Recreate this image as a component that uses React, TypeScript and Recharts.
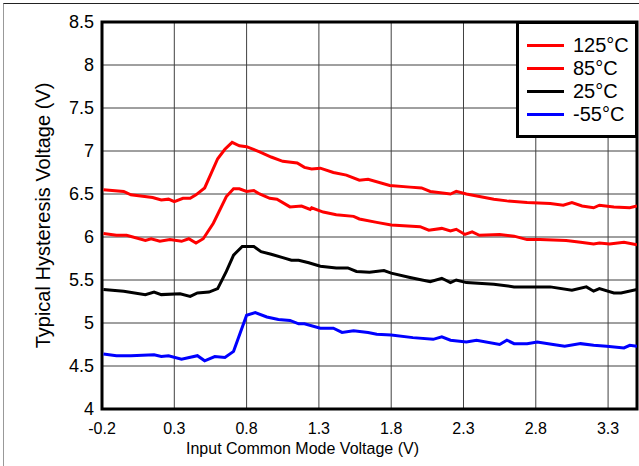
import React from 'react';
import { LineChart, Line, XAxis, YAxis, CartesianGrid, ReferenceArea } from 'recharts';

// readings per temperature: input common mode voltage (V) -> hysteresis (V)
const x125 = [-0.19, -0.05, 0.0, 0.15, 0.21, 0.26, 0.3, 0.36, 0.41, 0.45, 0.51, 0.6, 0.65, 0.7, 0.75, 0.8, 0.89, 0.97, 1.05, 1.15, 1.2, 1.25, 1.31, 1.4, 1.49, 1.58, 1.64, 1.79, 1.93, 2.01, 2.07, 2.21, 2.25, 2.32, 2.51, 2.6, 2.74, 2.9, 2.99, 3.05, 3.12, 3.2, 3.24, 3.34, 3.45, 3.5];
const y125 = [6.55, 6.53, 6.49, 6.46, 6.43, 6.44, 6.41, 6.45, 6.45, 6.49, 6.57, 6.91, 7.02, 7.1, 7.06, 7.05, 6.99, 6.93, 6.88, 6.86, 6.81, 6.79, 6.8, 6.75, 6.72, 6.66, 6.67, 6.6, 6.58, 6.57, 6.53, 6.5, 6.53, 6.5, 6.44, 6.42, 6.4, 6.39, 6.37, 6.4, 6.36, 6.34, 6.37, 6.35, 6.34, 6.36];

const x85 = [-0.19, -0.1, -0.03, 0.1, 0.14, 0.2, 0.27, 0.35, 0.4, 0.45, 0.5, 0.57, 0.66, 0.71, 0.75, 0.8, 0.85, 0.89, 0.96, 1.01, 1.1, 1.18, 1.24, 1.25, 1.33, 1.42, 1.54, 1.58, 1.7, 1.8, 2.0, 2.06, 2.15, 2.21, 2.25, 2.31, 2.36, 2.41, 2.55, 2.65, 2.74, 2.83, 3.01, 3.11, 3.2, 3.24, 3.31, 3.41, 3.5];
const y85 = [6.04, 6.02, 6.02, 5.96, 5.98, 5.95, 5.97, 5.95, 5.98, 5.93, 5.98, 6.16, 6.47, 6.56, 6.56, 6.53, 6.54, 6.5, 6.45, 6.44, 6.35, 6.36, 6.32, 6.34, 6.29, 6.26, 6.24, 6.21, 6.17, 6.14, 6.12, 6.08, 6.1, 6.07, 6.09, 6.03, 6.06, 6.02, 6.03, 6.01, 5.97, 5.97, 5.96, 5.94, 5.92, 5.93, 5.92, 5.94, 5.91];

const x25 = [-0.19, -0.05, 0.1, 0.16, 0.21, 0.34, 0.41, 0.46, 0.54, 0.6, 0.66, 0.71, 0.77, 0.85, 0.9, 0.97, 1.05, 1.11, 1.16, 1.23, 1.31, 1.42, 1.5, 1.56, 1.65, 1.75, 1.8, 1.93, 2.07, 2.15, 2.21, 2.25, 2.32, 2.51, 2.65, 2.74, 2.9, 3.05, 3.15, 3.2, 3.24, 3.34, 3.39, 3.5];
const y25 = [5.39, 5.37, 5.33, 5.36, 5.33, 5.34, 5.31, 5.35, 5.36, 5.4, 5.6, 5.79, 5.89, 5.89, 5.83, 5.8, 5.76, 5.73, 5.73, 5.7, 5.66, 5.64, 5.64, 5.6, 5.59, 5.61, 5.58, 5.53, 5.48, 5.52, 5.47, 5.5, 5.47, 5.45, 5.42, 5.42, 5.42, 5.38, 5.42, 5.37, 5.4, 5.35, 5.35, 5.39];

const xm55 = [-0.19, -0.1, 0.0, 0.16, 0.21, 0.26, 0.35, 0.46, 0.51, 0.58, 0.65, 0.71, 0.8, 0.86, 0.94, 1.02, 1.1, 1.16, 1.2, 1.31, 1.4, 1.46, 1.54, 1.64, 1.7, 1.8, 1.95, 2.09, 2.15, 2.21, 2.32, 2.39, 2.55, 2.6, 2.65, 2.74, 2.81, 2.92, 3.0, 3.11, 3.2, 3.29, 3.41, 3.45, 3.5];
const ym55 = [4.64, 4.62, 4.62, 4.63, 4.61, 4.62, 4.58, 4.62, 4.56, 4.61, 4.6, 4.67, 5.09, 5.12, 5.07, 5.04, 5.03, 4.99, 4.99, 4.94, 4.94, 4.89, 4.91, 4.89, 4.87, 4.86, 4.83, 4.81, 4.84, 4.8, 4.78, 4.8, 4.75, 4.8, 4.76, 4.76, 4.78, 4.75, 4.73, 4.76, 4.74, 4.73, 4.71, 4.74, 4.73];

const xTicks = [-0.2, 0.3, 0.8, 1.3, 1.8, 2.3, 2.8, 3.3];
const yTicks = [4, 4.5, 5, 5.5, 6, 6.5, 7, 7.5, 8, 8.5];

const zip = (xs: number[], ys: number[]) => xs.map((x, i) => ({ x, y: ys[i] }));

const series = [
  { name: '125°C', color: '#ff0000', data: zip(x125, y125) },
  { name: '85°C', color: '#ff0000', data: zip(x85, y85) },
  { name: '25°C', color: '#000000', data: zip(x25, y25) },
  { name: '-55°C', color: '#0000ff', data: zip(xm55, ym55) },
];

const font = 'Arial, "Liberation Sans", sans-serif';

export default function App() {
  return (
    <div style={{ position: 'absolute', left: 0, top: 0, width: 639, height: 466, background: '#fff', fontFamily: font }}>
      <div style={{ position: 'absolute', left: 3, top: 3, width: 636, height: 463, borderTop: '1px solid #222', borderLeft: '1px solid #999' }} />
      <LineChart width={639} height={466} margin={{ top: 22, right: 2, bottom: 0, left: 0 }}>
        <CartesianGrid stroke="#404040" strokeWidth={1} />
        <XAxis
          type="number"
          dataKey="x"
          domain={[-0.2, 3.5]}
          ticks={xTicks}
          allowDataOverflow
          axisLine={false}
          tickLine={false}
          height={57}
          tickMargin={8}
          tick={{ fontSize: 16, fill: '#000', fontFamily: font }}
          tickFormatter={(v: number) => v.toFixed(1)}
          label={{ value: 'Input Common Mode Voltage (V)', position: 'insideBottom', offset: 12, dx: -67, style: { fontSize: 16, fill: '#000', fontFamily: font } }}
        />
        <YAxis
          type="number"
          dataKey="y"
          domain={[4, 8.5]}
          ticks={yTicks}
          allowDataOverflow
          axisLine={false}
          tickLine={false}
          width={102}
          tick={{ fontSize: 18, fill: '#000', fontFamily: font }}
          tickFormatter={(v: number) => String(v)}
          label={{ value: 'Typical Hysteresis Voltage (V)', angle: -90, position: 'center', dx: -8, style: { fontSize: 20, fill: '#000', fontFamily: font } }}
        />
        {series.map((s) => (
          <Line
            key={s.name}
            data={s.data}
            dataKey="y"
            name={s.name}
            type="linear"
            stroke={s.color}
            strokeWidth={3}
            dot={false}
            isAnimationActive={false}
          />
        ))}
        <ReferenceArea x1={-0.2} x2={3.5} y1={4} y2={8.5} fill="none" stroke="#000" strokeWidth={3} />
      </LineChart>
      <div style={{ position: 'absolute', left: 516, top: 21, width: 122, height: 117, border: '3px solid #000', boxSizing: 'border-box', background: '#fff' }}>
        {series.map((s, i) => (
          <div key={s.name} style={{ position: 'absolute', left: 0, top: 10 + i * 23, height: 23, display: 'flex', alignItems: 'center' }}>
            <div style={{ marginLeft: 8, width: 37, height: 3, background: s.color }} />
            <span style={{ marginLeft: 9, fontSize: 20, lineHeight: '23px', color: '#000' }}>{s.name}</span>
          </div>
        ))}
      </div>
    </div>
  );
}
